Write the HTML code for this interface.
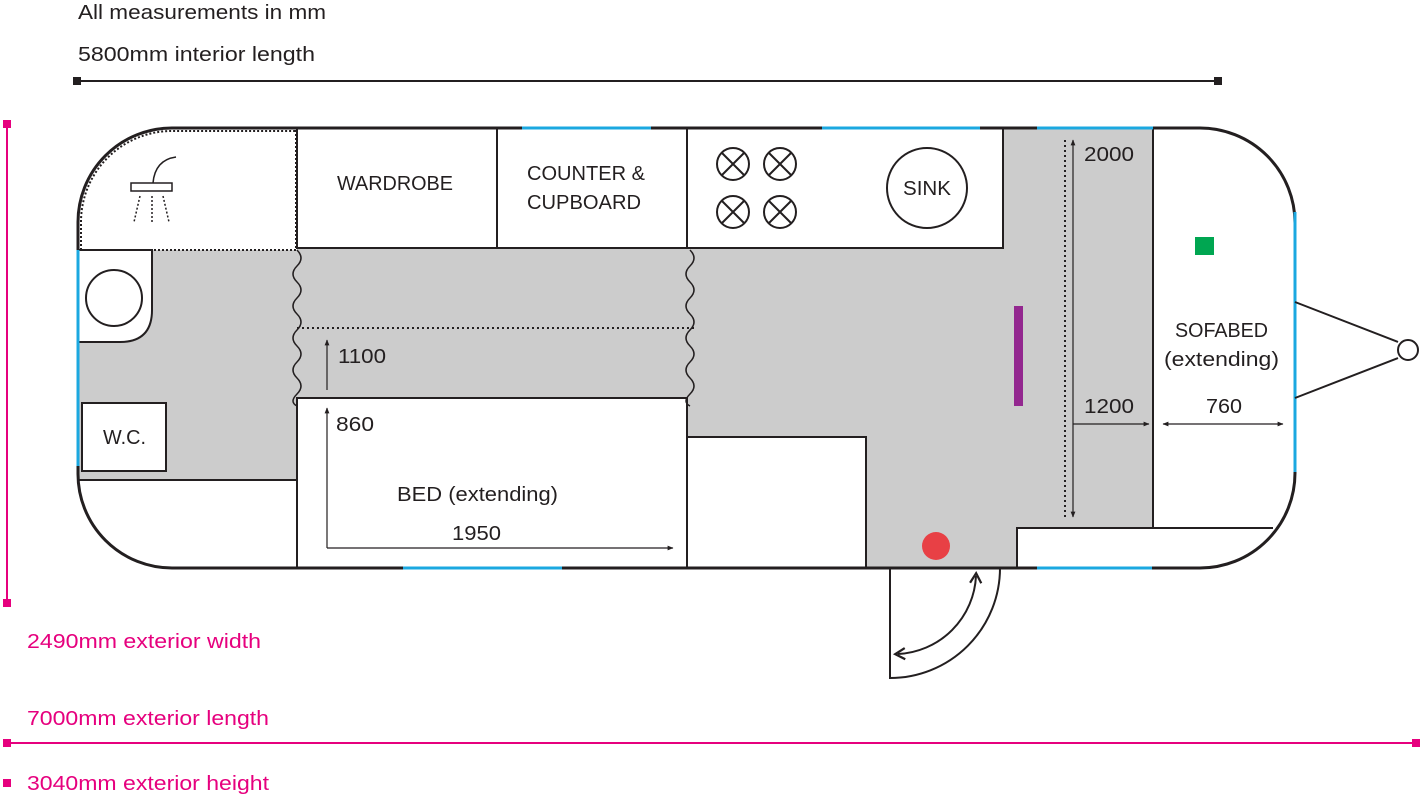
<!DOCTYPE html>
<html><head><meta charset="utf-8"><style>
html,body{margin:0;padding:0;background:#fff}
svg{display:block}
text{font-family:"Liberation Sans",sans-serif;font-size:20px;fill:#231f20}
.p{fill:#e6007e}
</style></head><body>
<svg width="1422" height="796" viewBox="0 0 1422 796" xmlns="http://www.w3.org/2000/svg">
<defs>
<marker id="a" viewBox="0 0 10 10" refX="9" refY="5" markerWidth="5" markerHeight="5" orient="auto-start-reverse"><path d="M0,1 L10,5 L0,9 z" fill="#231f20"/></marker>
<marker id="b" viewBox="0 0 10 10" refX="6" refY="5" markerWidth="7" markerHeight="7" orient="auto-start-reverse"><path d="M1,1 L8,5 L1,9" fill="none" stroke="#231f20" stroke-width="1.6"/></marker>
</defs>
<text x="78" y="19" textLength="248" lengthAdjust="spacingAndGlyphs">All measurements in mm</text>
<text x="78" y="61" textLength="237" lengthAdjust="spacingAndGlyphs">5800mm interior length</text>
<line x1="77" y1="81" x2="1218" y2="81" stroke="#231f20" stroke-width="2"/>
<rect x="73" y="77" width="8" height="8" fill="#231f20"/><rect x="1214" y="77" width="8" height="8" fill="#231f20"/>
<line x1="7" y1="124" x2="7" y2="603" stroke="#e6007e" stroke-width="2"/>
<rect x="3" y="120" width="8" height="8" fill="#e6007e"/><rect x="3" y="599" width="8" height="8" fill="#e6007e"/>
<text class="p" x="27" y="648" textLength="234" lengthAdjust="spacingAndGlyphs">2490mm exterior width</text>
<text class="p" x="27" y="725" textLength="242" lengthAdjust="spacingAndGlyphs">7000mm exterior length</text>
<line x1="7" y1="743" x2="1416" y2="743" stroke="#e6007e" stroke-width="2"/>
<rect x="3" y="739" width="8" height="8" fill="#e6007e"/><rect x="1412" y="739" width="8" height="8" fill="#e6007e"/>
<rect x="3" y="779" width="8" height="8" fill="#e6007e"/>
<text class="p" x="27" y="790" textLength="242" lengthAdjust="spacingAndGlyphs">3040mm exterior height</text>

<g fill="#cccccc">
<rect x="78" y="250" width="219" height="230"/>
<rect x="297" y="248" width="706" height="150"/>
<rect x="687" y="248" width="466" height="189"/>
<rect x="866" y="437" width="151" height="131"/>
<rect x="1003" y="128" width="150" height="400"/>
</g>
<g fill="#fff" stroke="#231f20" stroke-width="2">
<rect x="297" y="128" width="200" height="120"/>
<rect x="497" y="128" width="190" height="120"/>
<rect x="687" y="128" width="316" height="120"/>
<rect x="297" y="398" width="390" height="170"/>
<rect x="687" y="437" width="179" height="131"/>
<rect x="82" y="403" width="84" height="68"/>
<path d="M78,250 H152 V310 Q152,342 120,342 H78"/>
</g>
<path d="M1017,568 V528 H1273" fill="none" stroke="#231f20" stroke-width="2"/>
<line x1="1153" y1="128" x2="1153" y2="528" stroke="#231f20" stroke-width="2"/>
<line x1="78" y1="480" x2="297" y2="480" stroke="#231f20" stroke-width="2"/>
<circle cx="114" cy="298" r="28" fill="#fff" stroke="#231f20" stroke-width="2"/>
<path d="M296,130 V250 H80" fill="none" stroke="#231f20" stroke-width="2" stroke-dasharray="2,2"/>
<path d="M81,250 V222 A91,91 0 0 1 172,131 H296" fill="none" stroke="#231f20" stroke-width="2" stroke-dasharray="2,2"/>
<path d="M297,328 H695" fill="none" stroke="#231f20" stroke-width="2" stroke-dasharray="2,3"/>
<line x1="1065" y1="140" x2="1065" y2="520" stroke="#231f20" stroke-width="2" stroke-dasharray="2,3"/>
<path d="M297,250 q8,8 0,16 q-8,8 0,16 q8,8 0,16 q-8,8 0,16 q8,8 0,16 q-8,8 0,16 q8,8 0,16 q-8,8 0,16 q8,8 0,16 q-8,8 0,12" fill="none" stroke="#231f20" stroke-width="1.5"/>
<path d="M690,250 q8,8 0,16 q-8,8 0,16 q8,8 0,16 q-8,8 0,16 q8,8 0,16 q-8,8 0,16 q8,8 0,16 q-8,8 0,16 q8,8 0,16 q-8,8 0,12" fill="none" stroke="#231f20" stroke-width="1.5"/>
<path d="M172,128 H1200 A95,95 0 0 1 1295,223 V473 A95,95 0 0 1 1200,568 H172 A94,94 0 0 1 78,474 V222 A94,94 0 0 1 172,128 Z" fill="none" stroke="#231f20" stroke-width="3"/>
<g stroke="#1ba8e0" stroke-width="3">
<line x1="522" y1="128" x2="651" y2="128"/><line x1="822" y1="128" x2="980" y2="128"/><line x1="1037" y1="128" x2="1153" y2="128"/>
<line x1="403" y1="568" x2="562" y2="568"/><line x1="1037" y1="568" x2="1152" y2="568"/>
<line x1="78" y1="250" x2="78" y2="466"/><line x1="1295" y1="212" x2="1295" y2="472"/>
</g>
<path d="M1295,302 L1398,342 M1295,398 L1398,358" stroke="#231f20" stroke-width="2"/>
<circle cx="1408" cy="350" r="10" fill="#fff" stroke="#231f20" stroke-width="2"/>
<path d="M890,568 V678 A110,110 0 0 0 1000,568" fill="none" stroke="#231f20" stroke-width="2"/>
<path d="M976,576 A82,82 0 0 1 898,654" fill="none" stroke="#231f20" stroke-width="2" marker-start="url(#b)" marker-end="url(#b)"/>
<rect x="131" y="183" width="41" height="8" fill="#fff" stroke="#231f20" stroke-width="1.5"/>
<path d="M153,183 Q155,160 176,157" fill="none" stroke="#231f20" stroke-width="1.5"/>
<path d="M140,196 L134,222 M152,196 L152,222 M163,196 L169,222" stroke="#231f20" stroke-width="1.5" stroke-dasharray="2,2"/>
<g fill="none" stroke="#231f20" stroke-width="2">
<circle cx="733" cy="164" r="16"/><circle cx="780" cy="164" r="16"/><circle cx="733" cy="212" r="16"/><circle cx="780" cy="212" r="16"/>
<path d="M722,153 l22,22 M744,153 l-22,22 M769,153 l22,22 M791,153 l-22,22 M722,201 l22,22 M744,201 l-22,22 M769,201 l22,22 M791,201 l-22,22"/>
<circle cx="927" cy="188" r="40"/>
</g>
<rect x="1014" y="306" width="9" height="100" fill="#93278f"/>
<rect x="1195" y="237" width="19" height="18" fill="#00a651"/>
<circle cx="936" cy="546" r="14" fill="#e84045"/>
<g stroke="#231f20" stroke-width="1.2" fill="none">
<line x1="327" y1="390" x2="327" y2="340" marker-end="url(#a)"/>
<line x1="327" y1="548" x2="327" y2="408" marker-end="url(#a)"/>
<line x1="327" y1="548" x2="673" y2="548" marker-end="url(#a)"/>
<line x1="1073" y1="140" x2="1073" y2="517" marker-start="url(#a)" marker-end="url(#a)"/>
<line x1="1073" y1="424" x2="1149" y2="424" marker-end="url(#a)"/>
<line x1="1163" y1="424" x2="1283" y2="424" marker-start="url(#a)" marker-end="url(#a)"/>
</g>
<text x="337" y="190" textLength="116" lengthAdjust="spacingAndGlyphs">WARDROBE</text>
<text x="527" y="180" textLength="118" lengthAdjust="spacingAndGlyphs">COUNTER &amp;</text>
<text x="527" y="209" textLength="114" lengthAdjust="spacingAndGlyphs">CUPBOARD</text>
<text x="903" y="195" textLength="48" lengthAdjust="spacingAndGlyphs">SINK</text>
<text x="103" y="444" textLength="43" lengthAdjust="spacingAndGlyphs">W.C.</text>
<text x="338" y="363" textLength="48" lengthAdjust="spacingAndGlyphs">1100</text>
<text x="336" y="431" textLength="38" lengthAdjust="spacingAndGlyphs">860</text>
<text x="397" y="501" textLength="161" lengthAdjust="spacingAndGlyphs">BED (extending)</text>
<text x="452" y="540" textLength="49" lengthAdjust="spacingAndGlyphs">1950</text>
<text x="1084" y="161" textLength="50" lengthAdjust="spacingAndGlyphs">2000</text>
<text x="1084" y="413" textLength="50" lengthAdjust="spacingAndGlyphs">1200</text>
<text x="1206" y="413" textLength="36" lengthAdjust="spacingAndGlyphs">760</text>
<text x="1175" y="337" textLength="93" lengthAdjust="spacingAndGlyphs">SOFABED</text>
<text x="1164" y="366" textLength="115" lengthAdjust="spacingAndGlyphs">(extending)</text>
</svg>
</body></html>
